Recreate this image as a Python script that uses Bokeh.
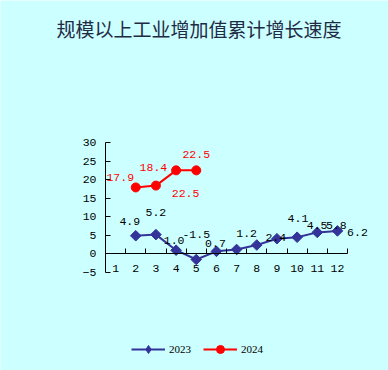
from bokeh.plotting import figure
from bokeh.models import (Range1d, LinearAxis, FixedTicker, ColumnDataSource, LabelSet,
                          Label, Legend, LegendItem)
from bokeh.embed import file_html
from bokeh.resources import INLINE
from bokeh.core.properties import value
import math

# ---- data ----
title_text = "规模以上工业增加值累计增长速度"
months = [1, 2, 3, 4, 5, 6, 7, 8, 9, 10, 11, 12]
m2023 = [2, 3, 4, 5, 6, 7, 8, 9, 10, 11, 12]
v2023 = [4.9, 5.2, 1.0, -1.5, 0.7, 1.2, 2.4, 4.1, 4.5, 5.8, 6.2]
m2024 = [2, 3, 4, 5]
v2024 = [17.9, 18.4, 22.5, 22.5]
y_ticks = [-5, 0, 5, 10, 15, 20, 25, 30]

# ---- label placement (style) ----
off2023_x = [-6, 0, -2, 0, -1, 10, 19, 21, 20, 19, 20]
off2023_y = [14, 22, 10, 25, 8, 16, 8, 20, 12, 7, -2]
off2024_x = [-15.5, -2.5, 9.5, 0]
off2024_y = [10, 18, -23, 16]

BG = "#CCFFFF"
BLUE = "#333399"
RED = "#FF0000"
FONT = value("Liberation Mono")

W, H = 388, 370
LEFT = 105            # pixel column of the y axis (x = 0.5)
PX_X = 20.17          # pixels per month
PX_Y = 130 / 35.0     # pixels per percent
TOP_30 = 142          # pixel row of y = 30
x_lo = 0.5 - LEFT / PX_X
x_hi = 0.5 + (W - LEFT) / PX_X
y_hi = 30 + TOP_30 / PX_Y
y_lo = 30 - (H - TOP_30) / PX_Y

p = figure(width=W, height=H, output_backend="svg", toolbar_location=None,
           x_axis_location=None, y_axis_location=None,
           x_range=Range1d(x_lo, x_hi), y_range=Range1d(y_lo, y_hi),
           min_border_left=0, min_border_right=0, min_border_top=0, min_border_bottom=0)
p.background_fill_color = BG
p.border_fill_color = BG
p.outline_line_color = None
p.grid.visible = False

# y axis at x = 0.5
yax = LinearAxis(ticker=FixedTicker(ticks=y_ticks), bounds=(-5, 30), fixed_location=0.5)
yax.major_tick_in = 5
yax.major_tick_out = 0
yax.minor_tick_in = 0
yax.minor_tick_out = 0
yax.axis_line_color = "black"
yax.major_tick_line_color = "black"
yax.major_label_standoff = 9
yax.major_label_text_font = "Liberation Mono"
yax.major_label_text_font_size = "11.5px"
yax.major_label_text_color = "black"
p.add_layout(yax, "left")

# x axis at y = 0
xax = LinearAxis(ticker=FixedTicker(ticks=months, minor_ticks=[m + 0.5 for m in [0] + months]),
                 fixed_location=0, bounds=(0.5, 12.5))
xax.major_tick_in = 0
xax.major_tick_out = 0
xax.minor_tick_in = 5
xax.minor_tick_out = 0
xax.minor_tick_line_color = "black"
xax.axis_line_color = "black"
xax.major_label_standoff = 11
xax.major_label_text_font = "Liberation Mono"
xax.major_label_text_font_size = "11.5px"
xax.major_label_text_color = "black"
p.add_layout(xax, "below")

s23 = ColumnDataSource(dict(x=m2023, y=v2023, t=["%.1f" % v for v in v2023],
                            dx=off2023_x, dy=off2023_y))
s24 = ColumnDataSource(dict(x=m2024, y=v2024, t=["%.1f" % v for v in v2024],
                            dx=off2024_x, dy=off2024_y))

l23 = p.line("x", "y", source=s23, line_color=BLUE, line_width=2)
k23 = p.scatter("x", "y", source=s23, marker="square", angle=math.pi / 4, size=7.5,
                fill_color=BLUE, line_color=BLUE)
# diamond used only for the legend swatch
k23_leg = p.scatter("x", "y", source=s23, marker="diamond", size=9,
                    fill_color=BLUE, line_color=BLUE, visible=False)
l24 = p.line("x", "y", source=s24, line_color=RED, line_width=2)
k24 = p.scatter("x", "y", source=s24, marker="circle", size=9,
                fill_color=RED, line_color=RED)

p.add_layout(LabelSet(x="x", y="y", text="t", source=s23, x_offset="dx", y_offset="dy",
                      text_align="center", text_baseline="middle", text_font=FONT,
                      text_font_size="11.5px", text_color="black"))
p.add_layout(LabelSet(x="x", y="y", text="t", source=s24, x_offset="dx", y_offset="dy",
                      text_align="center", text_baseline="middle", text_font=FONT,
                      text_font_size="11.5px", text_color=RED))

p.add_layout(Label(x=198.5, y=H - 28, x_units="screen", y_units="screen", text=title_text,
                   text_align="center", text_baseline="middle",
                   text_font="Noto Sans CJK SC", text_font_size="19px",
                   text_color="#1F2A44"))

legend = Legend(items=[LegendItem(label="2023", renderers=[l23, k23_leg]),
                       LegendItem(label="2024", renderers=[l24, k24])],
                location=(131, H - 359), orientation="horizontal", spacing=12, padding=0,
                margin=0, glyph_width=34, glyph_height=20, label_standoff=4,
                background_fill_alpha=0, border_line_alpha=0,
                label_text_font="Liberation Serif", label_text_font_size="11px",
                label_text_color="black")
p.add_layout(legend, "center")

open("out.html", "w").write(file_html(p, INLINE))
